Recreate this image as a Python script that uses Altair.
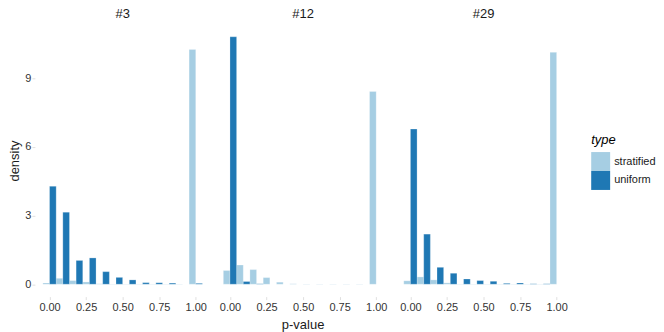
import altair as alt
import pandas as pd

facets = ["#3", "#12", "#29"]
types = ["stratified", "uniform"]
bin_centers = [0.0, 0.0909, 0.1818, 0.2727, 0.3636, 0.4545, 0.5455, 0.6364, 0.7273, 0.8182, 0.9091, 1.0]
bin_width = 0.0909

strat_3 = [0.06, 0.26, 0.16, 0.10, 0.02, 0.01, 0.01, 0.01, 0.01, 0.01, 0.01, 10.26]
unif_3 = [4.28, 3.15, 1.04, 1.15, 0.55, 0.30, 0.19, 0.07, 0.07, 0.05, 0.00, 0.04]
strat_12 = [0.60, 0.84, 0.64, 0.29, 0.09, 0.02, 0.01, 0.01, 0.01, 0.01, 0.01, 8.42]
unif_12 = [10.81, 0.12, 0.02, 0.00, 0.00, 0.00, 0.00, 0.00, 0.00, 0.00, 0.00, 0.00]
strat_29 = [0.15, 0.32, 0.19, 0.06, 0.01, 0.01, 0.01, 0.01, 0.01, 0.01, 0.01, 10.13]
unif_29 = [6.78, 2.19, 0.74, 0.48, 0.23, 0.16, 0.13, 0.04, 0.06, 0.02, 0.02, 0.00]

series = {
    "#3": {"stratified": strat_3, "uniform": unif_3},
    "#12": {"stratified": strat_12, "uniform": unif_12},
    "#29": {"stratified": strat_29, "uniform": unif_29},
}

rows = []
for f in facets:
    for t in types:
        for c, d in zip(bin_centers, series[f][t]):
            lo = c - bin_width / 2 if t == "stratified" else c
            rows.append({"facet": f, "type": t, "lo": lo, "hi": lo + bin_width / 2, "density": d})
df = pd.DataFrame(rows)

FONT = "Liberation Sans"

chart = alt.Chart(df).mark_bar(stroke="white", strokeWidth=0.5, strokeOpacity=0.5).encode(
    x=alt.X("lo:Q",
            scale=alt.Scale(domain=[-0.1, 1.1], nice=False, zero=False),
            axis=alt.Axis(values=[0, 0.25, 0.5, 0.75, 1], format=".2f", title=None)),
    x2="hi:Q",
    y=alt.Y("density:Q",
            scale=alt.Scale(domain=[-0.54, 11.35], nice=False),
            axis=alt.Axis(values=[0, 3, 6, 9], title="density", titlePadding=3, labelPadding=1)),
    y2=alt.Y2(datum=0),
    color=alt.Color("type:N",
                    scale=alt.Scale(domain=types, range=["#a6cee3", "#1f78b4"]),
                    legend=alt.Legend(title="type", orient="none", legendX=558, legendY=110)),
).properties(width=176, height=273).facet(
    column=alt.Column("facet:N", sort=facets,
                      header=alt.Header(title="p-value", titleOrient="bottom", labelOrient="top",
                                        labelFontSize=13, titleFontSize=13, labelFont=FONT,
                                        titleFont=FONT, titleFontWeight="normal",
                                        labelColor="#1a1a1a", titleColor="#1a1a1a",
                                        labelPadding=3, titlePadding=-4)),
    spacing=5,
).properties(padding=0).configure_view(stroke=None).configure_axis(
    grid=False, domain=False, tickColor="#e0e0e0", tickSize=3,
    labelFont=FONT, labelFontSize=11, labelColor="#333333", labelPadding=2,
    titleFont=FONT, titleFontSize=13, titleFontWeight="normal", titleColor="#1a1a1a",
).configure_legend(
    titleFont=FONT, titleFontSize=13, titleFontStyle="italic", titleFontWeight="normal",
    labelFont=FONT, labelFontSize=11, labelColor="#1a1a1a",
    symbolType="square", symbolSize=361, symbolStrokeWidth=0, rowPadding=0,
)

chart.save("out.html", embed_options={"renderer": "svg", "actions": False})
